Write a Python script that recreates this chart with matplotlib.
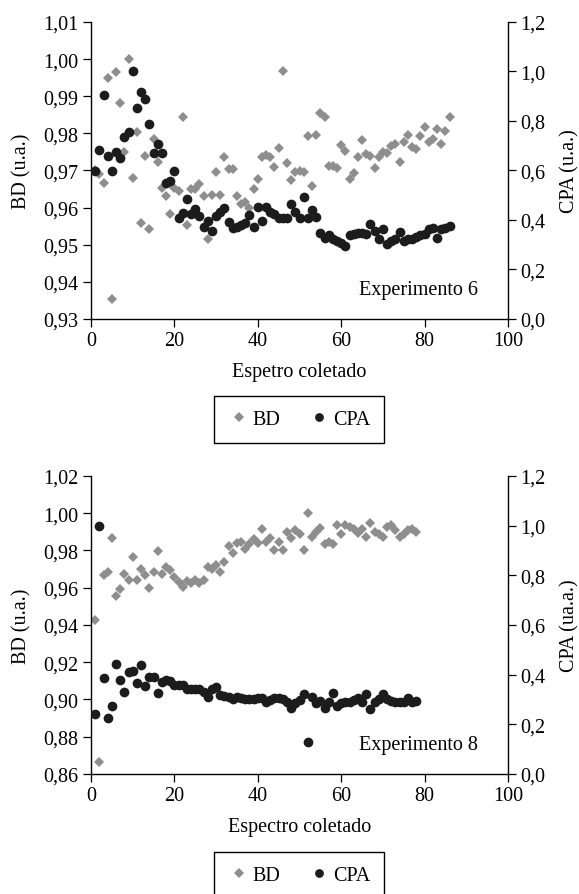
import matplotlib.pyplot as plt

plt.rcParams['font.family'] = ['Liberation Serif', 'DejaVu Serif']
plt.rcParams['font.size'] = 14.5

# Experimento 6
x6 = list(range(1, 87))
bd6 = [0.970, 0.969, 0.9666, 0.9949, 0.9354, 0.9965, 0.9881, 0.9750, 1.0001, 0.9681,
       0.9805, 0.9558, 0.9740, 0.9543, 0.9785, 0.9722, 0.9654, 0.9632, 0.9582, 0.9654,
       0.9645, 0.9843, 0.9552, 0.9650, 0.9650, 0.9663, 0.9632, 0.9516, 0.9633, 0.9695,
       0.9633, 0.9737, 0.9704, 0.9704, 0.9632, 0.9609, 0.9615, 0.9600, 0.9651, 0.9677,
       0.9737, 0.9741, 0.9737, 0.9710, 0.9760, 0.9969, 0.9720, 0.9674, 0.9695, 0.9699,
       0.9695, 0.9792, 0.9659, 0.9795, 0.9854, 0.9843, 0.9713, 0.9713, 0.9708, 0.9768,
       0.9753, 0.9677, 0.9693, 0.9735, 0.9783, 0.9744, 0.9740, 0.9708, 0.9737, 0.9750,
       0.9746, 0.9767, 0.9771, 0.9722, 0.9776, 0.9795, 0.9762, 0.9758, 0.9794, 0.9816,
       0.9777, 0.9785, 0.9812, 0.9771, 0.9807, 0.9845]
cpa6 = [0.599, 0.682, 0.903, 0.659, 0.599, 0.673, 0.649, 0.734, 0.754, 1.001,
        0.851, 0.919, 0.889, 0.788, 0.669, 0.709, 0.669, 0.551, 0.558, 0.599,
        0.407, 0.430, 0.484, 0.426, 0.443, 0.416, 0.372, 0.396, 0.355, 0.416,
        0.432, 0.447, 0.392, 0.366, 0.373, 0.378, 0.389, 0.420, 0.370, 0.453,
        0.396, 0.453, 0.432, 0.423, 0.409, 0.409, 0.409, 0.466, 0.432, 0.409,
        0.491, 0.409, 0.441, 0.412, 0.349, 0.328, 0.338, 0.324, 0.315, 0.305,
        0.295, 0.338, 0.342, 0.346, 0.349, 0.342, 0.382, 0.355, 0.322, 0.365,
        0.301, 0.315, 0.324, 0.353, 0.315, 0.322, 0.322, 0.331, 0.338, 0.342,
        0.365, 0.369, 0.328, 0.362, 0.369, 0.376]

# Experimento 8
x8 = list(range(1, 79))
bd8 = [0.9428, 0.8662, 0.9666, 0.9684, 0.9867, 0.9555, 0.9594, 0.9675, 0.9639, 0.9765,
       0.9639, 0.9702, 0.9666, 0.9598, 0.9687, 0.9795, 0.9675, 0.9711, 0.9693, 0.9657,
       0.9630, 0.9603, 0.9634, 0.9627, 0.9639, 0.9627, 0.9644, 0.9711, 0.9702, 0.9720,
       0.9687, 0.9738, 0.9824, 0.9788, 0.9842, 0.9845, 0.9806, 0.9836, 0.9859, 0.9842,
       0.9913, 0.9845, 0.9867, 0.9800, 0.9845, 0.9800, 0.9899, 0.9868, 0.9908, 0.9890,
       0.9800, 1.0003, 0.9872, 0.9900, 0.9920, 0.9836, 0.9845, 0.9836, 0.9938, 0.9890,
       0.9938, 0.9926, 0.9917, 0.9895, 0.9917, 0.9872, 0.9947, 0.9900, 0.9890, 0.9872,
       0.9926, 0.9934, 0.9908, 0.9872, 0.9890, 0.9908, 0.9913, 0.9900]
cpa8 = [0.242, 1.000, 0.388, 0.227, 0.275, 0.443, 0.379, 0.331, 0.412, 0.416,
        0.366, 0.440, 0.353, 0.389, 0.389, 0.325, 0.369, 0.380, 0.376, 0.357,
        0.357, 0.360, 0.341, 0.341, 0.344, 0.341, 0.330, 0.310, 0.341, 0.350,
        0.317, 0.314, 0.310, 0.303, 0.310, 0.306, 0.301, 0.301, 0.301, 0.306,
        0.306, 0.290, 0.299, 0.305, 0.305, 0.302, 0.291, 0.265, 0.286, 0.299,
        0.322, 0.130, 0.309, 0.286, 0.295, 0.265, 0.289, 0.326, 0.275, 0.286,
        0.289, 0.291, 0.299, 0.305, 0.291, 0.322, 0.262, 0.289, 0.302, 0.322,
        0.302, 0.295, 0.289, 0.289, 0.289, 0.305, 0.289, 0.295]

xticks = [0, 20, 40, 60, 80, 100]
bd6_ticks = [0.93, 0.94, 0.95, 0.96, 0.97, 0.98, 0.99, 1.00, 1.01]
bd8_ticks = [0.86, 0.88, 0.90, 0.92, 0.94, 0.96, 0.98, 1.00, 1.02]
cpa_ticks = [0.0, 0.2, 0.4, 0.6, 0.8, 1.0, 1.2]

gray = '#8e8e8e'
black = '#1c1c1c'


def comma(v, nd):
    return f"{v:.{nd}f}".replace('.', ',')


def panel(rect, x, bd, cpa, bd_ticks, xlabel, cpa_label, tag, leg_y):
    ax = fig.add_axes(rect)
    ax2 = ax.twinx()
    h1, = ax.plot(x, bd, 'D', color=gray, ms=5.5, mew=0, label='BD')
    h2, = ax2.plot(x, cpa, 'o', color=black, ms=7, mew=0, label='CPA')

    ax.set_xlim(0, 100)
    ax.set_xticks(xticks)
    ax.set_ylim(bd_ticks[0], bd_ticks[-1])
    ax.set_yticks(bd_ticks)
    ax.set_yticklabels([comma(v, 2) for v in bd_ticks])
    ax2.set_ylim(0, 1.2)
    ax2.set_yticks(cpa_ticks)
    ax2.set_yticklabels([comma(v, 1) for v in cpa_ticks])

    for a in (ax, ax2):
        a.spines['top'].set_visible(False)
        for s in a.spines.values():
            s.set_linewidth(1.0)
        a.tick_params(direction='out', length=6, width=0.9, pad=3)
    ax.spines['right'].set_visible(False)
    ax2.spines['left'].set_visible(False)
    ax2.spines['bottom'].set_visible(False)

    ax.set_xlabel(xlabel, labelpad=8)
    ax.set_ylabel('BD (u.a.)')
    ax2.set_ylabel(cpa_label)
    ax.yaxis.set_label_coords(-0.142, 0.5)
    ax2.yaxis.set_label_coords(1.126, 0.5)
    ax.text(0.928, 0.098, tag, transform=ax.transAxes, ha='right', va='center')

    fig.legend([h1, h2], ['BD', 'CPA'], loc='upper center',
               bbox_to_anchor=(0.517, leg_y), ncol=2, frameon=True,
               fancybox=False, edgecolor='black', framealpha=1,
               handletextpad=0.2, columnspacing=1.4, borderpad=0.7,
               borderaxespad=0, handlelength=1.0, markerscale=0.9)


fig = plt.figure(figsize=(5.79, 8.95), dpi=100)

panel([0.1572, 0.6425, 0.7202, 0.3318], x6, bd6, cpa6, bd6_ticks,
      'Espetro coletado', 'CPA (u.a.)', 'Experimento 6', 1 - 397 / 895)
panel([0.1572, 0.1341, 0.7202, 0.3330], x8, bd8, cpa8, bd8_ticks,
      'Espectro coletado', 'CPA (ua.a.)', 'Experimento 8', 1 - 853 / 895)

fig.savefig('out.png', dpi=100)
